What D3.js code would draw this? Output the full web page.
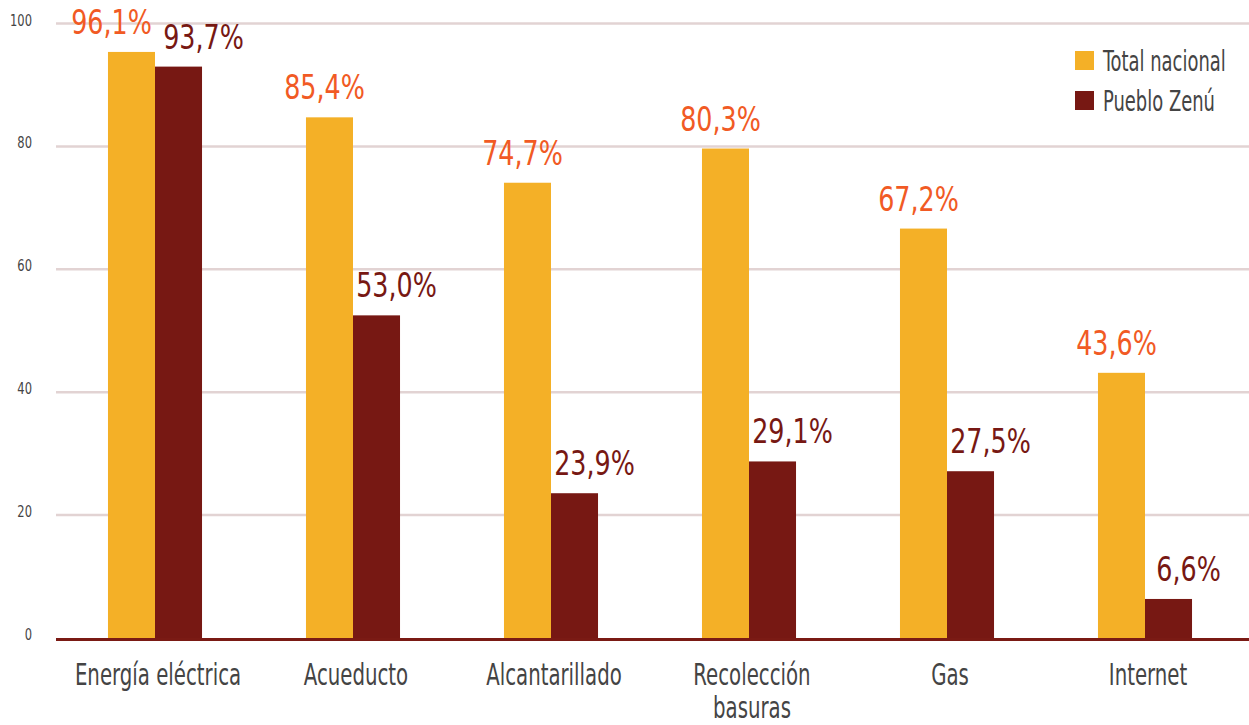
<!DOCTYPE html>
<html><head><meta charset="utf-8">
<script src="https://cdn.jsdelivr.net/npm/d3@7"></script>
<style>
html,body{margin:0;padding:0;background:#fff;}
svg text{font-family:"DejaVu Sans Condensed","DejaVu Sans",sans-serif;font-stretch:condensed;}
</style></head>
<body><svg id="c" width="1249" height="725"></svg>
<script>
const categories = ["Energía eléctrica","Acueducto","Alcantarillado","Recolección basuras","Gas","Internet"];
const seriesNames = ["Total nacional","Pueblo Zenú"];
const totalNacional = [96.1,85.4,74.7,80.3,67.2,43.6];
const puebloZenu = [93.7,53.0,23.9,29.1,27.5,6.6];
const yTicks = [0,20,40,60,80,100];

const colors = ["#F4B027","#771813"];
const labelColors = ["#F15A24","#771813"];

const svg = d3.select("#c");
const x0 = 56, x1 = 1244;
const x = d3.scaleBand().domain(categories).range([x0,x1]).paddingInner(0.525).paddingOuter(0.2625);
const xs = d3.scaleBand().domain(seriesNames).range([0,x.bandwidth()]);
// grid scale and bar scale (bars in the original sit slightly lower than the grid)
const yGrid = d3.scaleLinear().domain([0,100]).range([638,23.5]);
const y = d3.scaleLinear().domain([0,100]).range([639.3,28.1]);
const yBottom = 640;

function ctext(sel, px, py, sx, txt){
  return sel.append("g").attr("transform",`translate(${px},${py}) scale(${sx},1)`)
    .append("text").text(txt);
}

// gridlines
svg.append("g").selectAll("line").data(yTicks.filter(d=>d>0)).join("line")
  .attr("x1",x0).attr("x2",1249).attr("y1",d=>yGrid(d)).attr("y2",d=>yGrid(d))
  .attr("stroke","#E2D3D3").attr("stroke-width",2.5);

// y tick labels
const yt = svg.append("g");
yTicks.forEach(d=>{
  ctext(yt, 32, yGrid(d)+2, 0.8, d).attr("text-anchor","end").attr("fill","#444").attr("font-size",16);
});

const data = categories.map((c,i)=>({c, vals:[totalNacional[i],puebloZenu[i]]}));
const g = svg.append("g").selectAll("g").data(data).join("g")
  .attr("transform",d=>`translate(${x(d.c)},0)`);
g.selectAll("rect").data(d=>d.vals.map((v,j)=>({v,j}))).join("rect")
  .attr("x",d=>xs(seriesNames[d.j])).attr("width",xs.bandwidth())
  .attr("y",d=>y(d.v)).attr("height",d=>yBottom-y(d.v))
  .attr("fill",d=>colors[d.j]);

// value labels
const fmt = v => v.toFixed(1).replace(".",",")+"%";
g.each(function(d,i){
  const sel = d3.select(this);
  d.vals.forEach((v,j)=>{
    let dx = j===0 ? -5 : 20;
    if(i===0) dx = j===0 ? -20 : 25;
    ctext(sel, xs(seriesNames[j]) + xs.bandwidth()/2 + dx, y(v) - 18, 0.83, fmt(v))
      .attr("text-anchor","middle").attr("font-size",34)
      .attr("fill",labelColors[j]);
  });
});

// axis line
svg.append("line").attr("x1",x0).attr("x2",1249).attr("y1",639.5).attr("y2",639.5)
  .attr("stroke","#7A1A14").attr("stroke-width",3);

// x labels
const xl = svg.append("g");
categories.forEach(d=>{
  const words = d==="Recolección basuras" ? ["Recolección","basuras"] : [d];
  const t = ctext(xl, x(d)+x.bandwidth()/2+3, 685, 0.72, null)
    .attr("text-anchor","middle").attr("fill","#444").attr("font-size",30.5);
  t.selectAll("tspan").data(words).join("tspan")
    .attr("x",0).attr("dy",(w,k)=>k===0?0:33).text(w=>w);
});

// legend
const lg = svg.append("g").selectAll("g").data(seriesNames).join("g")
  .attr("transform",(d,i)=>`translate(1075,${51+i*40})`);
lg.append("rect").attr("width",19).attr("height",19).attr("fill",(d,i)=>colors[i]);
lg.each(function(d){
  ctext(d3.select(this), 28, 19.5, 0.70, d).attr("font-size",28.5).attr("fill","#444");
});
</script></body></html>
